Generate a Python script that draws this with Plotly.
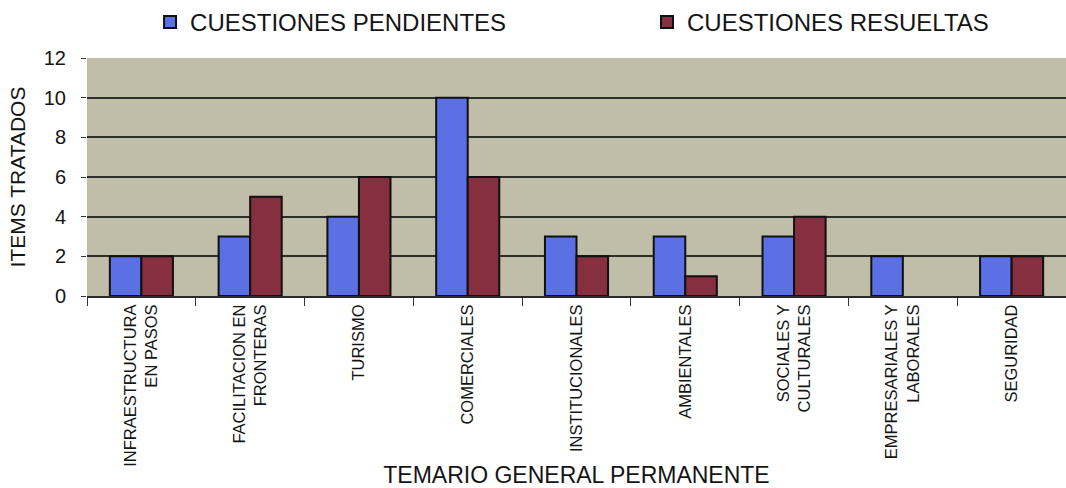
import plotly.graph_objects as go

# Temario general permanente: cuestiones tratadas por tema
categorias = [
    "INFRAESTRUCTURA<br>EN PASOS",
    "FACILITACION EN<br>FRONTERAS",
    "TURISMO",
    "COMERCIALES",
    "INSTITUCIONALES",
    "AMBIENTALES",
    "SOCIALES Y<br>CULTURALES",
    "EMPRESARIALES Y<br>LABORALES",
    "SEGURIDAD",
]
pendientes = [2, 3, 4, 10, 3, 3, 3, 2, 2]
resueltas = [2, 5, 6, 6, 2, 1, 4, 0, 2]
y_ticks = [0, 2, 4, 6, 8, 10, 12]

FONT = "Liberation Sans, Arial, sans-serif"
INK = "#141414"


def outline_widths(values, width=2):
    # no outline for empty bars, so a zero value leaves no stroke on the axis
    return [width if v else 0 for v in values]


fig = go.Figure()
fig.add_trace(go.Bar(
    x=categorias, y=pendientes, name="CUESTIONES PENDIENTES",
    marker=dict(color="#5a70e4",
                line=dict(color="#101010", width=outline_widths(pendientes))),
    legend="legend",
))
fig.add_trace(go.Bar(
    x=categorias, y=resueltas, name="CUESTIONES RESUELTAS",
    marker=dict(color="#86303f",
                line=dict(color="#101010", width=outline_widths(resueltas))),
    legend="legend2",
))

legend_style = dict(
    orientation="h", xanchor="left", yanchor="middle", y=1.15,
    yref="paper", bgcolor="rgba(0,0,0,0)",
    font=dict(family=FONT, size=24, color=INK),
    itemwidth=30, tracegroupgap=0,
)

fig.update_layout(
    width=1066, height=488,
    margin=dict(l=87, r=0, t=57, b=192),
    paper_bgcolor="white",
    plot_bgcolor="#c0bea8",
    showlegend=True,
    barmode="group", bargap=0.42, bargroupgap=0,
    font=dict(family=FONT, color=INK),
    legend=dict(x=0.0644, **legend_style),
    legend2=dict(x=0.572, **legend_style),
    xaxis=dict(
        type="category",
        tickangle=-90,
        tickfont=dict(size=16.5, color=INK),
        ticks="outside", tickson="boundaries", ticklen=8,
        tickcolor="#333333", tickwidth=1.2,
        showline=True, linecolor="#2a2a2a", linewidth=1.8,
        showgrid=False,
        title=dict(text="TEMARIO GENERAL PERMANENTE",
                   font=dict(size=23, color=INK), standoff=6),
    ),
    yaxis=dict(
        range=[0, 12], tickvals=y_ticks,
        tickfont=dict(size=20, color=INK),
        ticks="outside", ticklen=5, tickcolor="#333333", tickwidth=1.4,
        ticklabelstandoff=11,
        showgrid=True, gridcolor="#2e2e2b", gridwidth=1.8,
        zeroline=False, showline=False,
        title=dict(text="ITEMS TRATADOS", font=dict(size=21, color=INK),
                   standoff=12),
    ),
)

fig.write_html("out.html")
